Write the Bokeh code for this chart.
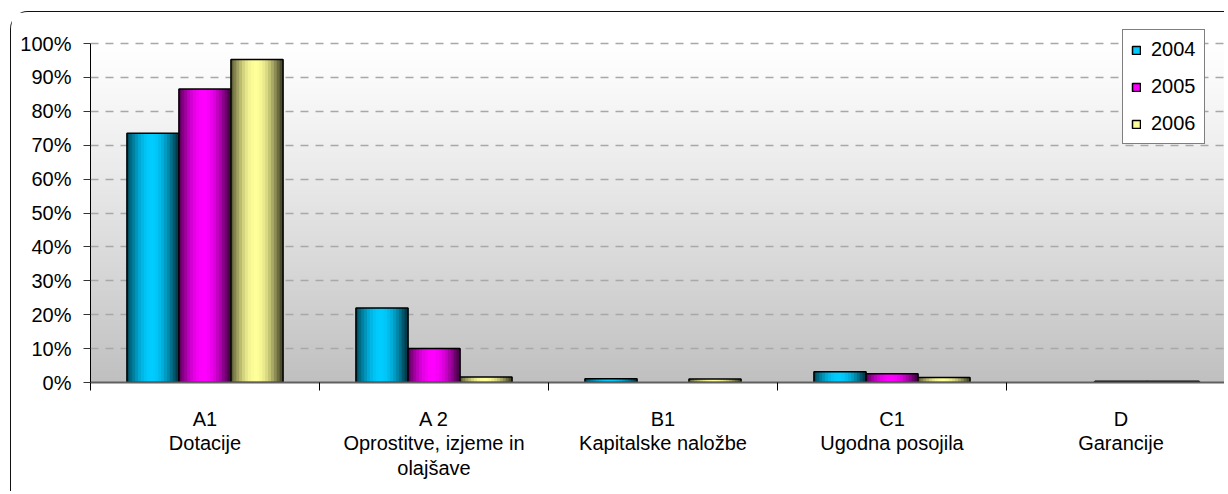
import numpy as np
from bokeh.plotting import figure
from bokeh.models import Range1d, FixedTicker, Legend, LegendItem
from bokeh.embed import file_html
from bokeh.resources import INLINE

# ---- data ----
categories = ["A1\nDotacije", "A 2\nOprostitve, izjeme in\nolajšave",
              "B1\nKapitalske naložbe", "C1\nUgodna posojila", "D\nGarancije"]
years = ["2004", "2005", "2006"]
v2004 = [73.5, 22.0, 1.1, 3.2, 0.0]
v2005 = [86.6, 10.0, 0.0, 2.6, 0.4]
v2006 = [95.3, 1.6, 1.0, 1.5, 0.4]
y_ticks = [0, 10, 20, 30, 40, 50, 60, 70, 80, 90, 100]
y_tick_labels = ["0%", "10%", "20%", "30%", "40%", "50%", "60%", "70%", "80%", "90%", "100%"]

series = [v2004, v2005, v2006]
centers_col = [(0, 204, 255), (255, 0, 255), (255, 255, 153)]

FONT = "Liberation Sans"
W, H = 1214, 480
ML, MT, MB = 79, 13, 110
cat_px = 229.0
px_per_100 = 339.0
x_end = (W - ML) / cat_px
y_end = 100.0 * (H - MT - MB) / px_per_100

p = figure(width=W, height=H, output_backend="svg", toolbar_location=None,
           x_range=Range1d(0, x_end), y_range=Range1d(0, y_end),
           min_border_left=ML, min_border_top=MT, min_border_bottom=MB, min_border_right=0)
p.outline_line_color = None
p.background_fill_color = "white"
p.border_fill_color = "white"
p.styles = {"margin-left": "10px", "margin-top": "11px",
            "border-left": "1.5px solid #111", "border-top": "1.5px solid #111",
            "border-top-left-radius": "18px"}

# background gradient in plot area (0..100%)
N = 256
img = np.empty((N, 1), dtype=np.uint32)
view = img.view(dtype=np.uint8).reshape((N, 1, 4))
t = np.linspace(0, 1, N)
g = (255 - 63 * (1 - t) ** 1.15).astype(np.uint8)
view[:, 0, 0] = g
view[:, 0, 1] = g
view[:, 0, 2] = g
view[:, 0, 3] = 255
p.image_rgba(image=[img], x=0, y=0, dw=x_end, dh=100, level="image")

# bars with cylinder-like shading built from strips
bw = 52.0 / cat_px
NS = 18
def shade(tt):
    return np.sin(np.pi * np.clip(tt * 1.04, 0, 1)) ** 0.9

# strip order: centre strip first (used as legend swatch), then the rest
order = [NS // 2] + [k for k in range(NS) if k != NS // 2]

strip_rs, outline_rs = [], []
for s, vals in enumerate(series):
    off = (s - 1) * bw
    cc = np.array(centers_col[s], dtype=float)
    edge = cc * 0.3
    xs, tops, cols = [], [], []
    for i, v in enumerate(vals):
        if v <= 0:
            continue
        for k in order:
            tt = (k + 0.5) / NS
            f = shade(tt)
            c = edge * (1 - f) + cc * f
            xs.append(i + 0.5 + off - bw / 2 + (k + 0.5) * bw / NS)
            tops.append(v)
            cols.append("#%02x%02x%02x" % tuple(int(round(x)) for x in c))
    sr = p.vbar(x=xs, top=tops, width=bw / NS * 1.35, fill_color=cols, line_color=None)
    ox = [i + 0.5 + off for i, v in enumerate(vals) if v > 0]
    ot = [v for v in vals if v > 0]
    orr = p.vbar(x=ox, top=ot, width=bw, fill_color=None, line_color="black", line_width=1.5)
    strip_rs.append(sr)
    outline_rs.append(orr)

# legend
items = [LegendItem(label=yr, renderers=[strip_rs[s], outline_rs[s]], index=0)
         for s, yr in enumerate(years)]
legend = Legend(items=items, location=(1032, 238))
legend.glyph_width = 10
legend.glyph_height = 10
legend.label_text_font = FONT
legend.label_text_font_size = "20px"
legend.label_text_color = "black"
legend.label_height = 23
legend.label_standoff = 10
legend.spacing = 14
legend.padding = 8
legend.margin = 0
legend.border_line_color = "black"
legend.border_line_width = 1
legend.background_fill_color = "white"
legend.background_fill_alpha = 1
p.add_layout(legend)

# axes
xa = p.xaxis[0]
xa.ticker = FixedTicker(ticks=[i + 0.5 for i in range(len(categories))],
                        minor_ticks=list(range(len(categories) + 1)))
xa.major_label_overrides = {i + 0.5: c for i, c in enumerate(categories)}
xa.major_tick_line_color = None
xa.major_tick_out = 0
xa.major_tick_in = 0
xa.minor_tick_out = 8
xa.minor_tick_in = 0
xa.minor_tick_line_color = "black"
xa.axis_line_color = "#606060"
xa.axis_line_width = 2
xa.major_label_standoff = 17
xa.major_label_text_line_height = 1.12
xa.major_label_text_font = FONT
xa.major_label_text_font_size = "20px"
xa.major_label_text_color = "black"

ya = p.yaxis[0]
ya.ticker = FixedTicker(ticks=y_ticks)
ya.bounds = (0, 100)
ya.major_label_overrides = {t_: l for t_, l in zip(y_ticks, y_tick_labels)}
ya.major_tick_out = 7
ya.major_tick_in = 0
ya.minor_tick_line_color = None
ya.axis_line_color = "black"
ya.major_tick_line_color = "#333333"
ya.major_label_standoff = 12
ya.major_label_text_font = FONT
ya.major_label_text_font_size = "20px"
ya.major_label_text_color = "black"

p.xgrid.grid_line_color = None
p.ygrid.ticker = FixedTicker(ticks=y_ticks[1:])
p.ygrid.grid_line_color = "#a8a8a8"
p.ygrid.grid_line_dash = "8 7"
p.ygrid.grid_line_width = 1.3

open("out.html", "w").write(file_html(p, INLINE))
